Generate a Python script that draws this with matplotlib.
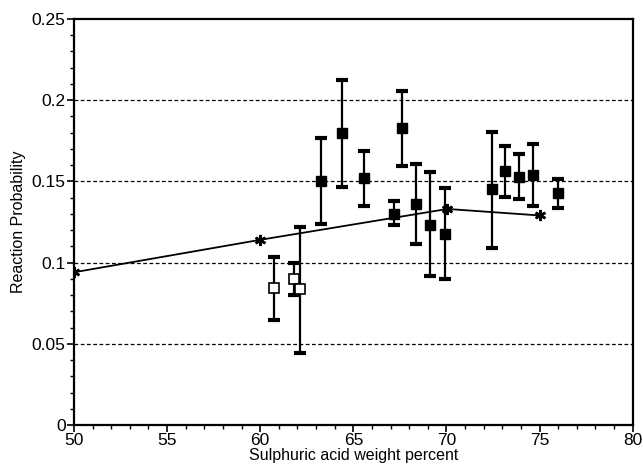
import numpy as np
import matplotlib.pyplot as plt
from matplotlib.ticker import MultipleLocator, FuncFormatter

plt.rcParams['font.family'] = ['Liberation Sans', 'DejaVu Sans']

# model line (asterisks)
model_x = [50, 60, 70.05, 75]
model_y = [0.094, 0.114, 0.133, 0.129]

# filled squares with error bars
filled_x = [63.26, 64.37, 65.58, 67.62, 67.2, 68.36, 69.11, 69.91, 72.42, 73.13, 73.89, 74.62, 76.0]
filled_y = [0.150, 0.1796, 0.1523, 0.1829, 0.1299, 0.136, 0.1233, 0.1178, 0.1451, 0.1566, 0.1529, 0.1541, 0.1427]
filled_hi = [0.1766, 0.2122, 0.1689, 0.2055, 0.1381, 0.1607, 0.1556, 0.1457, 0.1805, 0.1716, 0.167, 0.173, 0.1515]
filled_lo = [0.1238, 0.1467, 0.135, 0.1597, 0.1233, 0.1113, 0.0919, 0.0897, 0.1092, 0.1402, 0.1394, 0.1349, 0.1338]

# open squares with error bars
open_x = [60.75, 61.82, 62.13]
open_y = [0.0842, 0.0901, 0.0835]
open_hi = [0.1034, 0.0999, 0.1221]
open_lo = [0.0647, 0.0802, 0.0445]

fig = plt.figure(figsize=(6.43, 4.73), dpi=100)
ax = fig.add_axes([0.115, 0.1015, 0.869, 0.8585])

for yg in [0.05, 0.1, 0.15, 0.2]:
    ax.axhline(yg, color='black', lw=0.9, ls=(0, (3, 2)), zorder=1)

ax.plot(model_x, model_y, color='black', lw=1.3, marker=(6, 2, 0), ms=8, mew=1.8, zorder=3)

fy = np.array(filled_y)
ax.errorbar(filled_x, filled_y, yerr=[fy - np.array(filled_lo), np.array(filled_hi) - fy],
            fmt='s', color='black', ms=6.5, ecolor='black', elinewidth=1.6,
            capsize=4, capthick=3, zorder=4)

oy = np.array(open_y)
ax.errorbar(open_x, open_y, yerr=[oy - np.array(open_lo), np.array(open_hi) - oy],
            fmt='none', ecolor='black', elinewidth=1.6, capsize=4, capthick=3, zorder=4)
ax.plot(open_x, open_y, 's', mfc='white', mec='black', ms=6.5, mew=1.2, ls='none', zorder=5)

ax.set_xlim(50, 80)
ax.set_ylim(0, 0.25)
ax.xaxis.set_major_locator(MultipleLocator(5))
ax.xaxis.set_minor_locator(MultipleLocator(1))
ax.yaxis.set_major_locator(MultipleLocator(0.05))
ax.yaxis.set_minor_locator(MultipleLocator(0.01))
ax.yaxis.set_major_formatter(FuncFormatter(lambda v, p: ('%.2f' % v).rstrip('0').rstrip('.') if v else '0'))
ax.tick_params(which='major', length=5, width=1.2, labelsize=12.5, pad=1)
ax.tick_params(which='minor', length=3, width=1.0)
for s in ax.spines.values():
    s.set_linewidth(1.6)

ax.set_xlabel('Sulphuric acid weight percent', fontsize=11.5, labelpad=0)
ax.set_ylabel('Reaction Probability', fontsize=11.5, labelpad=4)

fig.savefig('out.png', dpi=100)
